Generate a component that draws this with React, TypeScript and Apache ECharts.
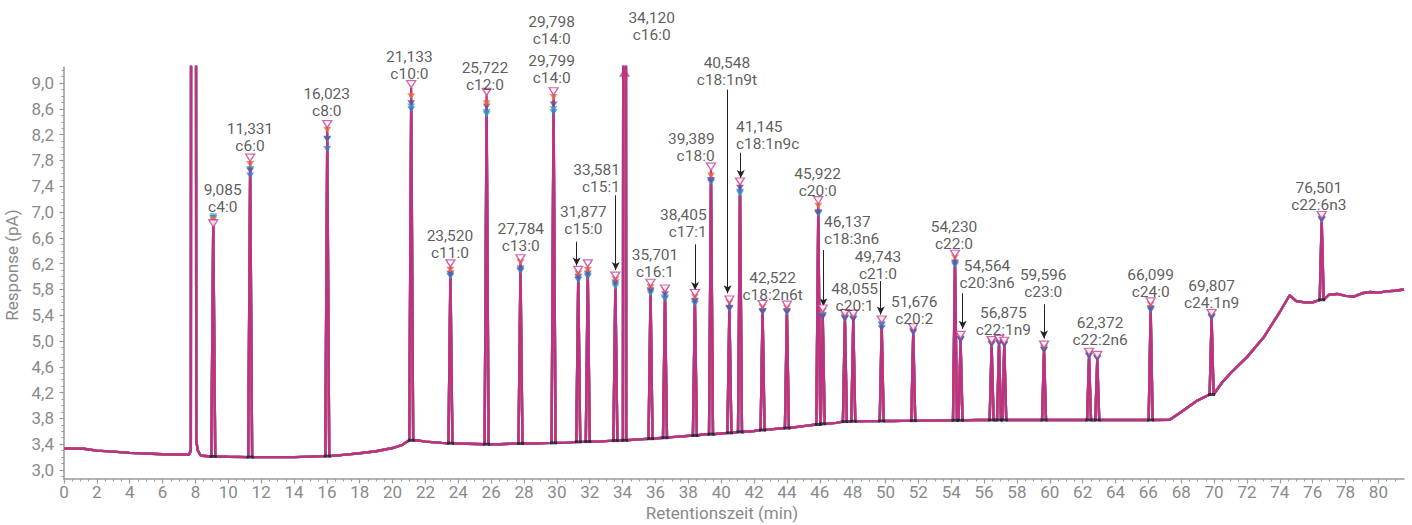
import React, { useEffect, useRef } from "react";
import * as echarts from "echarts";

// ---------- data ----------
const X_MIN = 0;
const X_MAX = 81.56;
const Y_MIN = 2.86;
const Y_MAX = 9.25;

const xTickValues = [0, 2, 4, 6, 8, 10, 12, 14, 16, 18, 20, 22, 24, 26, 28, 30, 32, 34, 36, 38, 40, 42, 44, 46, 48, 50, 52, 54, 56, 58, 60, 62, 64, 66, 68, 70, 72, 74, 76, 78, 80];
const yTickValues = [3.0, 3.4, 3.8, 4.2, 4.6, 5.0, 5.4, 5.8, 6.2, 6.6, 7.0, 7.4, 7.8, 8.2, 8.6, 9.0];

// baseline knots (min, pA)
const baseT = [0, 1.2, 2, 3, 4, 5, 6, 7, 7.6, 8.4, 10, 12, 14, 16.6, 17, 18, 19, 20, 20.6, 21.5, 22, 23, 24, 26.5, 28.5, 30.5, 32.5, 35, 37, 39, 42, 43, 45, 47, 49, 50.5, 52.5, 53.5, 55.5, 58, 61, 64, 65.5, 67.3, 68, 69, 70.5, 71, 72, 73, 74, 74.6, 75, 75.5, 76, 77, 77.5, 78, 78.5, 79, 79.5, 80, 80.5, 81, 81.56];
const baseV = [3.335, 3.33, 3.3, 3.285, 3.265, 3.255, 3.245, 3.24, 3.235, 3.22, 3.205, 3.2, 3.2, 3.225, 3.235, 3.26, 3.29, 3.34, 3.39, 3.46, 3.44, 3.42, 3.41, 3.4, 3.41, 3.42, 3.44, 3.475, 3.51, 3.555, 3.605, 3.63, 3.68, 3.73, 3.758, 3.76, 3.765, 3.77, 3.775, 3.775, 3.775, 3.775, 3.775, 3.78, 3.9, 4.08, 4.36, 4.5, 4.75, 5.05, 5.45, 5.71, 5.62, 5.6, 5.6, 5.72, 5.73, 5.7, 5.69, 5.74, 5.76, 5.75, 5.77, 5.78, 5.8];

// solvent peak (off scale)
const solventT = [7.72, 7.88, 8.05, 8.15, 8.3];
const solventV = [3.3, 80, 3.45, 3.3, 3.23];

// peaks
const peakT = [9.085, 11.331, 16.023, 21.133, 23.52, 25.722, 27.784, 29.798, 31.3, 31.88, 33.56, 34.12, 35.7, 36.58, 38.4, 39.38, 40.5, 41.145, 42.52, 44.0, 45.91, 46.18, 47.53, 48.04, 49.77, 51.69, 54.23, 54.57, 56.46, 56.91, 57.23, 59.65, 62.39, 62.89, 66.14, 69.85, 76.55];
const peakHalfWidth = [0.12, 0.12, 0.12, 0.12, 0.12, 0.12, 0.12, 0.12, 0.12, 0.12, 0.12, 0.1, 0.12, 0.12, 0.12, 0.12, 0.12, 0.12, 0.12, 0.12, 0.12, 0.12, 0.12, 0.12, 0.12, 0.12, 0.12, 0.12, 0.12, 0.12, 0.12, 0.12, 0.12, 0.12, 0.12, 0.12, 0.12];
const peakBase = [3.21, 3.2, 3.215, 3.46, 3.415, 3.4, 3.41, 3.42, 3.435, 3.44, 3.455, 3.46, 3.485, 3.5, 3.535, 3.555, 3.575, 3.59, 3.62, 3.65, 3.705, 3.715, 3.75, 3.755, 3.76, 3.765, 3.77, 3.77, 3.775, 3.775, 3.775, 3.775, 3.775, 3.775, 3.775, 4.17, 5.64];
const apexMagenta = [6.77, 7.79, 8.31, 8.93, 6.15, 8.81, 6.23, 8.82, 6.05, 6.15, 5.96, 40, 5.85, 5.76, 5.69, 7.65, 5.59, 7.42, 5.52, 5.51, 7.13, 5.45, 5.38, 5.37, 5.28, 5.16, 6.3, 5.04, 4.96, 4.98, 4.95, 4.89, 4.78, 4.73, 5.56, 5.38, 6.9];
const apexOrange = [6.84, 7.7, 8.23, 8.75, 6.06, 8.64, 6.18, 8.74, 6.0, 6.06, 5.91, 40, 5.79, 5.74, 5.64, 7.52, 5.55, 7.43, 5.48, 5.47, 7.05, 5.42, 5.36, 5.35, 5.29, 5.16, 6.25, 5.02, 4.95, 4.96, 4.95, 4.87, 4.79, 4.74, 5.52, 5.38, 6.89];
const apexPurple = [6.8, 7.6, 8.09, 8.64, 6.0, 8.59, 6.08, 8.62, 5.95, 6.0, 5.86, 40, 5.74, 5.68, 5.58, 7.45, 5.47, 7.33, 5.42, 5.42, 6.95, 5.33, 5.31, 5.29, 5.15, 5.1, 6.17, 4.98, 4.91, 4.93, 4.9, 4.82, 4.73, 4.69, 5.46, 5.33, 6.85];
const apexTeal = [6.89, 7.62, 8.08, 8.59, 5.96, 8.47, 6.05, 8.55, 5.92, 5.97, 5.8, 40, 5.69, 5.63, 5.56, 7.44, 5.46, 7.24, 5.41, 5.4, 6.93, 5.36, 5.33, 5.32, 5.22, 5.12, 6.15, 4.99, 4.93, 4.94, 4.92, 4.84, 4.75, 4.7, 5.45, 5.34, 6.84];
const apexBlue = [6.86, 7.52, 7.93, 8.55, 5.97, 8.5, 6.04, 8.5, 5.9, 5.95, 5.83, 40, 5.72, 5.61, 5.53, 7.42, 5.45, 7.27, 5.4, 5.4, 6.93, 5.35, 5.3, 5.3, 5.2, 5.08, 6.13, 4.97, 4.9, 4.92, 4.9, 4.81, 4.72, 4.68, 5.43, 5.32, 6.83];

// off-scale indicator for c16:0
const offScaleT = [34.12];
const offScaleV = [9.17];

// annotations
const labelTimes = ["9,085", "11,331", "16,023", "21,133", "23,520", "25,722", "27,784", "29,798", "29,799", "31,877", "33,581", "34,120", "35,701", "38,405", "39,389", "40,548", "41,145", "42,522", "45,922", "46,137", "48,055", "49,743", "51,676", "54,230", "54,564", "56,875", "59,596", "62,372", "66,099", "69,807", "76,501"];
const labelNames = ["c4:0", "c6:0", "c8:0", "c10:0", "c11:0", "c12:0", "c13:0", "c14:0", "c14:0", "c15:0", "c15:1", "c16:0", "c16:1", "c17:1", "c18:0", "c18:1n9t", "c18:1n9c", "c18:2n6t", "c20:0", "c18:3n6", "c20:1", "c21:0", "c20:2", "c22:0", "c20:3n6", "c22:1n9", "c23:0", "c22:2n6", "c24:0", "c24:1n9", "c22:6n3"];
// label anchor layout (data coordinates) and alignment
const labelAtT = [9.66, 11.32, 15.99, 21.02, 23.49, 25.62, 27.8, 29.68, 29.68, 31.61, 33.84, 35.77, 35.97, 39.12, 39.6, 40.35, 40.9, 43.13, 45.87, 46.26, 48.12, 49.54, 51.75, 54.17, 56.18, 57.17, 59.6, 63.06, 66.14, 69.85, 76.38];
const labelAtV = [7.21, 8.155, 8.695, 9.28, 6.5, 9.105, 6.605, 9.817, 9.214, 6.863, 7.524, 9.88, 6.21, 6.822, 8.008, 9.184, 8.188, 5.842, 7.457, 6.72, 5.67, 6.17, 5.48, 6.636, 6.028, 5.3, 5.894, 5.144, 5.894, 5.724, 7.248];
const labelAlign = ["center", "center", "center", "center", "center", "center", "center", "center", "center", "center", "right", "center", "center", "right", "right", "center", "left", "center", "center", "left", "center", "center", "center", "center", "center", "center", "center", "center", "center", "center", "center"];

// pointer arrows
const arrowT = [31.2, 33.58, 38.41, 40.39, 41.19, 46.22, 49.71, 54.7, 59.65];
const arrowFrom = [6.54, 7.26, 6.5, 8.9, 7.92, 6.41, 5.93, 5.74, 5.57];
const arrowTo = [6.17, 6.1, 5.79, 5.74, 7.53, 5.54, 5.41, 5.19, 5.04];

// ---------- helpers ----------
function buildTrace(apex: number[]): [number, number][] {
  const pts: [number, number][] = [];
  baseT.forEach((t, i) => {
    const inPeak = peakT.some((p, k) => Math.abs(p - t) < peakHalfWidth[k] + 0.04);
    const inSolvent = t > solventT[0] - 0.05 && t < solventT[solventT.length - 1] + 0.05;
    if (!inPeak && !inSolvent) pts.push([t, baseV[i]]);
  });
  solventT.forEach((t, i) => pts.push([t, solventV[i]]));
  peakT.forEach((t, i) => {
    const w = peakHalfWidth[i];
    pts.push([t - w, peakBase[i]], [t, apex[i]], [t + w, peakBase[i]]);
  });
  pts.sort((a, b) => a[0] - b[0]);
  return pts;
}

function markers(apex: number[]): [number, number][] {
  const out: [number, number][] = [];
  peakT.forEach((t, i) => {
    if (apex[i] <= Y_MAX) out.push([t, apex[i]]);
  });
  return out;
}

const fmt = (v: number) => v.toFixed(1).replace(".", ",");

const COLORS = {
  magenta: "#bd3384",
  orange: "#f06a36",
  purple: "#6a4b9c",
  teal: "#2ab4c6",
  blue: "#3a80cf",
};

const DOWN_TRIANGLE = "path://M0,0L10,0L5,8Z";

export default function App() {
  const ref = useRef<HTMLDivElement>(null);

  useEffect(() => {
    if (!ref.current) return;
    const chart = echarts.init(ref.current, undefined, { renderer: "svg" });

    const traces = [
      { name: "teal", apex: apexTeal, color: COLORS.teal },
      { name: "blue", apex: apexBlue, color: COLORS.blue },
      { name: "purple", apex: apexPurple, color: COLORS.purple },
      { name: "orange", apex: apexOrange, color: COLORS.orange },
      { name: "magenta", apex: apexMagenta, color: COLORS.magenta },
    ];

    const lineSeries = traces.map((tr, i) => ({
      type: "line",
      name: tr.name,
      data: buildTrace(tr.apex),
      showSymbol: false,
      symbol: "none",
      clip: true,
      z: 2 + i,
      lineStyle: { color: tr.color, width: 2.4 },
      silent: true,
    }));

    const baseMarks = {
      type: "scatter",
      data: peakT.map((t, i) => [t, peakBase[i]]),
      symbol: "rect",
      symbolSize: [7, 3],
      itemStyle: { color: "#1b1b2e" },
      z: 8,
      silent: true,
    };

    const markerSeries = traces.map((tr, i) => {
      const isMag = tr.name === "magenta";
      return {
        type: "scatter",
        data: markers(tr.apex),
        symbol: DOWN_TRIANGLE,
        symbolSize: isMag ? [9, 7] : [8, 6],
        symbolOffset: [0, isMag ? -3.5 : -3],
        itemStyle: isMag
          ? { color: "#ffffff", borderColor: "#c63d98", borderWidth: 1.3 }
          : { color: tr.color },
        z: 10 + i,
        clip: false,
        silent: true,
      };
    });

    const offScale = {
      type: "scatter",
      data: offScaleT.map((t, i) => [t, offScaleV[i]]),
      symbol: "triangle",
      symbolSize: [11, 9],
      itemStyle: { color: COLORS.magenta },
      clip: false,
      z: 20,
      silent: true,
    };

    const labelSeries = {
      type: "scatter",
      symbolSize: 0,
      clip: false,
      z: 30,
      silent: true,
      data: labelNames.map((n, i) => ({
        value: [labelAtT[i], labelAtV[i]],
        name: n,
        label: { align: labelAlign[i] },
      })),
      label: {
        show: true,
        position: "inside",
        verticalAlign: "middle",
        color: "#333333",
        fontFamily: "Roboto",
        fontSize: 15.5,
        lineHeight: 17,
        formatter: (p: any) => `${labelTimes[p.dataIndex]}\n${labelNames[p.dataIndex]}`,
      },
      markLine: {
        silent: true,
        symbol: ["none", "arrow"],
        symbolSize: [6, 8],
        label: { show: false },
        lineStyle: { color: "#222222", width: 1, type: "solid" },
        data: arrowT.map((t, i) => [
          { coord: [t, arrowFrom[i]] },
          { coord: [t, arrowTo[i]] },
        ]),
      },
    };

    const xMinor: number[] = [];
    for (let v = 0; v <= 81; v += 0.5) xMinor.push(v);
    const yMinor: number[] = [];
    for (let k = 29; k <= 92; k++) yMinor.push(k / 10);

    const axisGray = "#9a9a9a";
    const labelGray = "#8a8a8a";

    chart.setOption({
      animation: false,
      backgroundColor: "#ffffff",
      grid: { left: 64, right: 8, top: 67, bottom: 46, containLabel: false, outerBoundsMode: "none" },
      xAxis: [
        {
          type: "value",
          min: X_MIN,
          max: X_MAX,
          name: "Retentionszeit (min)",
          nameLocation: "middle",
          nameGap: 25,
          nameTextStyle: { color: labelGray, fontSize: 17, fontFamily: "Roboto", padding: [0, 24, 0, 0] },
          axisLine: { show: true, lineStyle: { color: axisGray, width: 1.5 } },
          axisTick: { show: true, customValues: xTickValues, length: 4.5, lineStyle: { color: axisGray, width: 1.2 } },
          axisLabel: { customValues: xTickValues, color: labelGray, fontSize: 17, fontFamily: "Roboto", margin: 4 },
          splitLine: { show: false },
        },
        {
          type: "value",
          min: X_MIN,
          max: X_MAX,
          position: "bottom",
          axisLine: { show: false },
          axisTick: { show: true, customValues: xMinor, length: 2.5, lineStyle: { color: axisGray, width: 1 } },
          axisLabel: { show: false },
          splitLine: { show: false },
        },
      ],
      yAxis: [
        {
          type: "value",
          min: Y_MIN,
          max: Y_MAX,
          name: "Response (pA)",
          nameLocation: "middle",
          nameGap: 41,
          nameTextStyle: { color: labelGray, fontSize: 17, fontFamily: "Roboto", padding: [0, 0, 0, 16] },
          axisLine: { show: true, lineStyle: { color: axisGray, width: 1.5 } },
          axisTick: { show: true, customValues: yTickValues, length: 4.5, lineStyle: { color: axisGray, width: 1.2 } },
          axisLabel: {
            customValues: yTickValues,
            color: labelGray,
            fontSize: 17,
            fontFamily: "Roboto",
            margin: 10,
            formatter: (v: number) => fmt(v),
          },
          splitLine: { show: false },
        },
        {
          type: "value",
          min: Y_MIN,
          max: Y_MAX,
          position: "left",
          axisLine: { show: false },
          axisTick: { show: true, customValues: yMinor, length: 2.5, lineStyle: { color: axisGray, width: 1 } },
          axisLabel: { show: false },
          splitLine: { show: false },
        },
      ],
      series: [...lineSeries, baseMarks, ...markerSeries, offScale, labelSeries],
    });

    return () => chart.dispose();
  }, []);

  return (
    <div
      ref={ref}
      style={{ position: "absolute", left: 0, top: 0, width: 1412, height: 525, background: "#fff" }}
    />
  );
}
